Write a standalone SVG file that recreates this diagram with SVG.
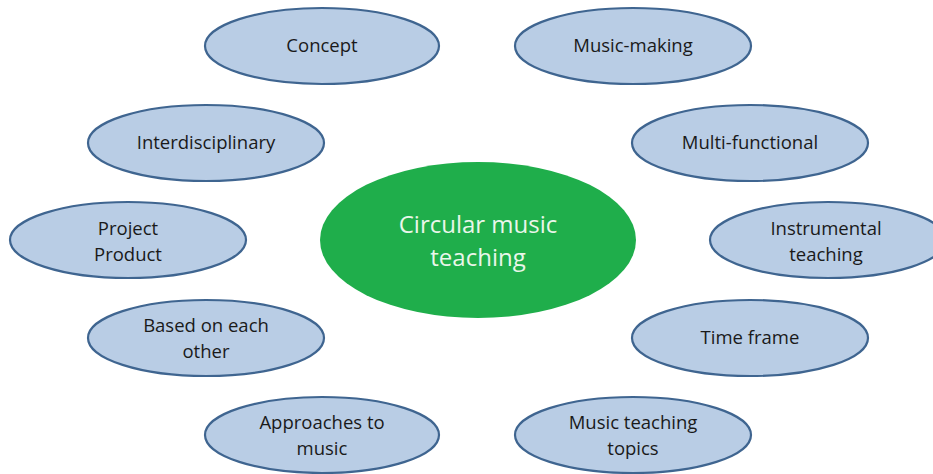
<svg xmlns="http://www.w3.org/2000/svg" width="933" height="474" viewBox="0 0 933 474">
<style>
.n ellipse{fill:#b9cde5;stroke:#3f6590;stroke-width:2.2}
.n text{font-family:"Open Sans","Liberation Sans",sans-serif;font-size:18.5px;fill:#1a1a1a;text-anchor:middle}
.c ellipse{fill:#1fae4b;stroke:none}
.c text{font-family:"Open Sans","Liberation Sans",sans-serif;font-size:24px;fill:#eaf6ea;text-anchor:middle}
</style>
<rect width="933" height="474" fill="#ffffff"/>
<g id="connectors"></g>
<g id="center" class="c"><ellipse cx="478" cy="240" rx="158" ry="78"/><text x="478" y="233">Circular music</text><text x="478" y="266">teaching</text></g>
<g id="concept" class="n"><ellipse cx="322" cy="46" rx="117" ry="38"/><text x="322" y="52">Concept</text></g>
<g id="music-making" class="n"><ellipse cx="633" cy="46" rx="118" ry="38"/><text x="633" y="52">Music-making</text></g>
<g id="interdisciplinary" class="n"><ellipse cx="206" cy="143" rx="118" ry="38"/><text x="206" y="149">Interdisciplinary</text></g>
<g id="multi-functional" class="n"><ellipse cx="750" cy="143" rx="118" ry="38"/><text x="750" y="149">Multi-functional</text></g>
<g id="project-product" class="n"><ellipse cx="128" cy="240" rx="118" ry="38"/><text x="128" y="235">Project</text><text x="128" y="261">Product</text></g>
<g id="instrumental" class="n"><ellipse cx="828" cy="240" rx="118" ry="38"/><text x="826" y="235">Instrumental</text><text x="826" y="261">teaching</text></g>
<g id="based" class="n"><ellipse cx="206" cy="338" rx="118" ry="38"/><text x="206" y="332">Based on each</text><text x="206" y="358">other</text></g>
<g id="time-frame" class="n"><ellipse cx="750" cy="338" rx="118" ry="38"/><text x="750" y="344">Time frame</text></g>
<g id="approaches" class="n"><ellipse cx="322" cy="435" rx="117" ry="38"/><text x="322" y="429">Approaches to</text><text x="322" y="455">music</text></g>
<g id="topics" class="n"><ellipse cx="633" cy="435" rx="118" ry="38"/><text x="633" y="429">Music teaching</text><text x="633" y="455">topics</text></g>
</svg>
